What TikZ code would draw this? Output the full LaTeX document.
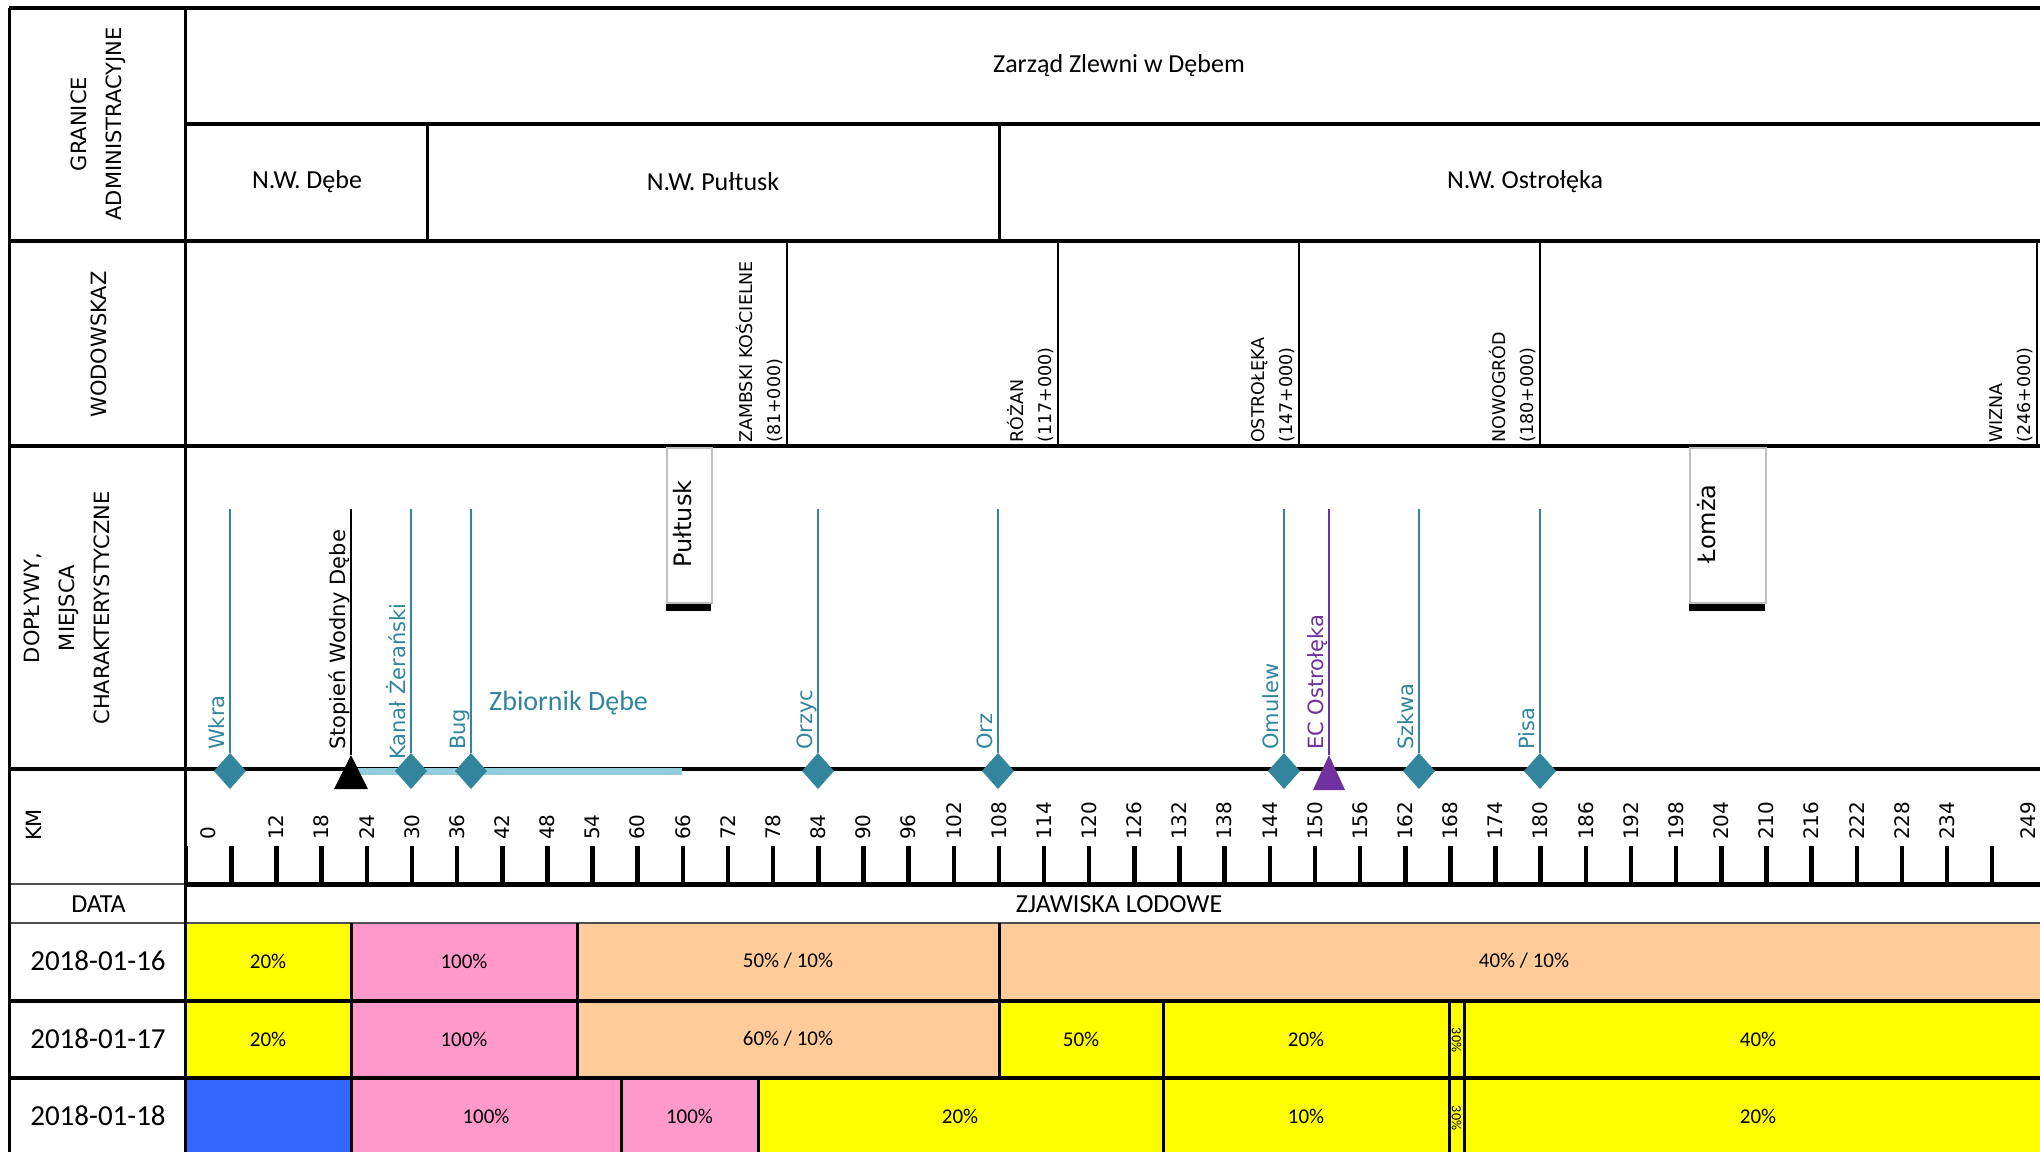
\documentclass[tikz,border=0pt]{standalone}
\usepackage{fontspec}
\setmainfont{Carlito}
\newfontfamily\dvs{DejaVu Sans}
\definecolor{tealc}{HTML}{31859C}
\definecolor{purplec}{HTML}{7030A0}
\definecolor{barc}{HTML}{92CDDC}
\definecolor{yel}{HTML}{FFFF00}
\definecolor{pnk}{HTML}{FF99CC}
\definecolor{pch}{HTML}{FFCC99}
\definecolor{blu}{HTML}{3366FF}
\definecolor{boxgray}{HTML}{BFBFBF}
\definecolor{dgray}{HTML}{505050}
\begin{document}
\begin{tikzpicture}[x=1pt,y=-1pt,
  gridl/.style={line width=3.5pt,black},
  gridv/.style={line width=3pt,black},
  gaugev/.style={line width=2.5pt,black},
  tickl/.style={line width=4.5pt,black},
  rowlab/.style={font=\dvs\fontsize{21}{35}\selectfont,rotate=90,inner sep=0pt,align=center},
  hdr/.style={font=\fontsize{26}{30}\selectfont,inner sep=0pt},
  datelab/.style={font=\fontsize{29}{34}\selectfont,inner sep=0pt},
  pct/.style={font=\fontsize{21}{25}\selectfont,inner sep=0pt},
  tinypct/.style={font=\fontsize{14}{16}\selectfont,inner sep=0pt,rotate=-90},
  gauge/.style={font=\dvs\fontsize{17.5}{28}\selectfont,rotate=90,inner sep=0pt,align=left,anchor=south west},
  trlab/.style={font=\dvs\fontsize{21}{25}\selectfont,rotate=90,inner sep=0pt,anchor=base west},
  kmlab/.style={font=\dvs\fontsize{20}{24}\selectfont,rotate=90,inner sep=0pt,anchor=west},
  townbox/.style={draw=boxgray,line width=1.5pt,fill=white,inner sep=0pt,anchor=north west,minimum height=155pt},
  towntxt/.style={font=\dvs\fontsize{24}{28}\selectfont,rotate=90,inner sep=0pt,anchor=north},
  trib/.style={line width=2.2pt,tealc},
  cellfill/.style={draw=none}
]
\useasboundingbox (0,0) rectangle (2040,1152);
\clip (0,0) rectangle (2040,1152);
\fill[white] (0,0) rectangle (2040,1152);

% ---------- ice table fills ----------
% row 1
\fill[yel] (185,1001) rectangle (351,923);
\fill[pnk] (351,1001) rectangle (577,923);
\fill[pch] (577,1001) rectangle (2040,923);
% row 2
\fill[yel] (185,1078) rectangle (351,1001);
\fill[pnk] (351,1078) rectangle (577,1001);
\fill[pch] (577,1078) rectangle (999,1001);
\fill[yel] (999,1078) rectangle (2040,1001);
% row 3
\fill[blu] (185,1152) rectangle (351,1078);
\fill[pnk] (351,1152) rectangle (758,1078);
\fill[yel] (758,1152) rectangle (2040,1078);

% ---------- grid ----------
\draw[gridl] (9,8) -- (2040,8);
\draw[gridl] (185,124) -- (2040,124);
\draw[gridl] (9,241) -- (2040,241);
\draw[gridl] (9,446) -- (2040,446);
\draw[line width=2pt,dgray] (9,884) -- (185,884);
\draw[line width=2.5pt,dgray] (9,923) -- (2040,923);
\draw[gridl] (9,1001) -- (2040,1001);
\draw[gridl] (9,1078) -- (2040,1078);
\draw[gridv] (9,8) -- (9,1152);
\draw[gridv] (185,8) -- (185,1152);
\draw[gridv] (427,124) -- (427,241);
\draw[gridv] (999,124) -- (999,241);
\foreach \gx in {787,1058,1299,1540,2037} \draw[gaugev] (\gx,241) -- (\gx,446);
% ice table cell borders
\foreach \cx in {351,577,999} \draw[gridv] (\cx,923) -- (\cx,1001);
\foreach \cx in {351,577,999,1163,1449,1464} \draw[gridv] (\cx,1001) -- (\cx,1078);
\foreach \cx in {351,621,758,1163,1449,1464} \draw[gridv] (\cx,1078) -- (\cx,1152);

% ---------- row labels ----------
\node[rowlab] (granice) at (98,124) {GRANICE\\ADMINISTRACYJNE};
\node[rowlab] (wodowskaz) at (98.5,344.5) {WODOWSKAZ};
\node[rowlab] (doplywy) at (67,608) {DOPŁYWY,\\MIEJSCA\\CHARAKTERYSTYCZNE};
\node[rowlab] (kmhead) at (33.5,825) {KM};
\node[hdr] (datahead) at (98.5,904) {DATA};
\node[hdr] (zjawiska) at (1119,904) {ZJAWISKA LODOWE};

% ---------- administrative ----------
\node[hdr] (zarzad) at (1119,66) {Zarząd Zlewni w Dębem};
\node[hdr] (nwdebe) at (307,182) {N.W. Dębe};
\node[hdr] (nwpultusk) at (713,182) {N.W. Pułtusk};
\node[hdr] (nwostroleka) at (1525,182) {N.W. Ostrołęka};

% ---------- gauges ----------
\node[gauge] (gZam) at (783,443) {ZAMBSKI KOŚCIELNE\\(81+000)};
\node[gauge] (gRoz) at (1054,443) {RÓŻAN\\(117+000)};
\node[gauge] (gOst) at (1295,443) {OSTROŁĘKA\\(147+000)};
\node[gauge] (gNow) at (1536,443) {NOWOGRÓD\\(180+000)};
\node[gauge] (gWiz) at (2033,443) {WIZNA\\(246+000)};

% ---------- towns ----------
\node[townbox,minimum width=45pt] (boxP) at (666,447) {};
\fill[black] (boxP.south west) rectangle ++(45,7);
\node[towntxt] (tP) at (673,524) {Pułtusk};
\node[townbox,minimum width=76pt] (boxL) at (1689,447) {};
\fill[black] (boxL.south west) rectangle ++(76,7);
\node[towntxt] (tL) at (1697,524) {Łomża};

% ---------- river axis ----------
\draw[line width=4pt,black] (9,769) -- (2040,769);
\coordinate (barS) at (358,771);
\coordinate (barE) at (682,771);
\draw[barc,line width=7pt] (barS) -- (barE);
\node[font=\fontsize{28}{32}\selectfont,text=tealc,inner sep=0pt,anchor=base west] (zbiornik) at (489,710) {Zbiornik Dębe};

% tributaries with diamonds
\foreach \nm/\tx/\txt/\ys in {wkra/230/Wkra/750,kanal/411/Kanał Żerański/760,bug/471/Bug/750,orzyc/818/Orzyc/750,orz/998/Orz/750,omulew/1284/Omulew/750,szkwa/1419/Szkwa/750,pisa/1540/Pisa/750}{
  \coordinate (\nm top) at (\tx,509);
  \coordinate (\nm pt) at (\tx,753);
  \draw[trib] (\nm top) -- (\nm pt);
  \fill[tealc] (\tx,753) -- (\tx+16,771) -- (\tx,789) -- (\tx-16,771) -- cycle;
  \node[trlab,text=tealc] (\nm lab) at (\tx-6,\ys) {\txt};
}
% Stopien Wodny Debe
\coordinate (stoptop) at (351,509);
\coordinate (stoppt) at (351,755);
\draw[line width=2.5pt,black] (stoptop) -- (stoppt);
\fill[black] (351,755) -- (368,789) -- (334,789) -- cycle;
\node[trlab,text=black] (stoplab) at (345,750) {Stopień Wodny Dębe};
% EC Ostroleka
\coordinate (ectop) at (1329,509);
\coordinate (ecpt) at (1329,755);
\draw[line width=2.5pt,purplec] (ectop) -- (ecpt);
\fill[purplec] (1329,755) -- (1345,790) -- (1313,790) -- cycle;
\node[trlab,text=purplec] (eclab) at (1323,750) {EC Ostrołęka};

% ---------- km scale ----------
\draw[line width=5pt,black] (185,884) -- (2040,884);
\foreach \k in {0,...,40} \draw[tickl] ({186.2+45.15*\k},846) -- ({186.2+45.15*\k},884);
\node[kmlab] (km0) at (208,840) {0};
\foreach \k in {2,...,39}{
  \pgfmathtruncatemacro\kv{6*\k}
  \node[kmlab] (km\k) at ({186.2+45.15*\k},840) {\kv};
}
\node[kmlab] (km249) at (2028,840) {249};

% ---------- ice table texts ----------
\node[datelab] (d16) at (98,961) {2018-01-16};
\node[datelab] (d17) at (98,1039) {2018-01-17};
\node[datelab] (d18) at (98,1116) {2018-01-18};
% row 1
\node[pct] (r1a) at (268,961) {20\%};
\node[pct] (r1b) at (464,961) {100\%};
\node[pct] (r1c) at (788,961) {50\% / 10\%};
\node[pct] (r1d) at (1524,961) {40\% / 10\%};
% row 2
\node[pct] (r2a) at (268,1039) {20\%};
\node[pct] (r2b) at (464,1039) {100\%};
\node[pct] (r2c) at (788,1039) {60\% / 10\%};
\node[pct] (r2d) at (1081,1039) {50\%};
\node[pct] (r2e) at (1306,1039) {20\%};
\node[tinypct] (r2f) at (1456.5,1040) {30\%};
\node[pct] (r2g) at (1758,1039) {40\%};
% row 3
\node[pct] (r3b) at (486,1116) {100\%};
\node[pct] (r3c) at (689.5,1116) {100\%};
\node[pct] (r3d) at (960,1116) {20\%};
\node[pct] (r3e) at (1306,1116) {10\%};
\node[tinypct] (r3f) at (1456.5,1118) {30\%};
\node[pct] (r3g) at (1758,1116) {20\%};
\end{tikzpicture}
\end{document}
